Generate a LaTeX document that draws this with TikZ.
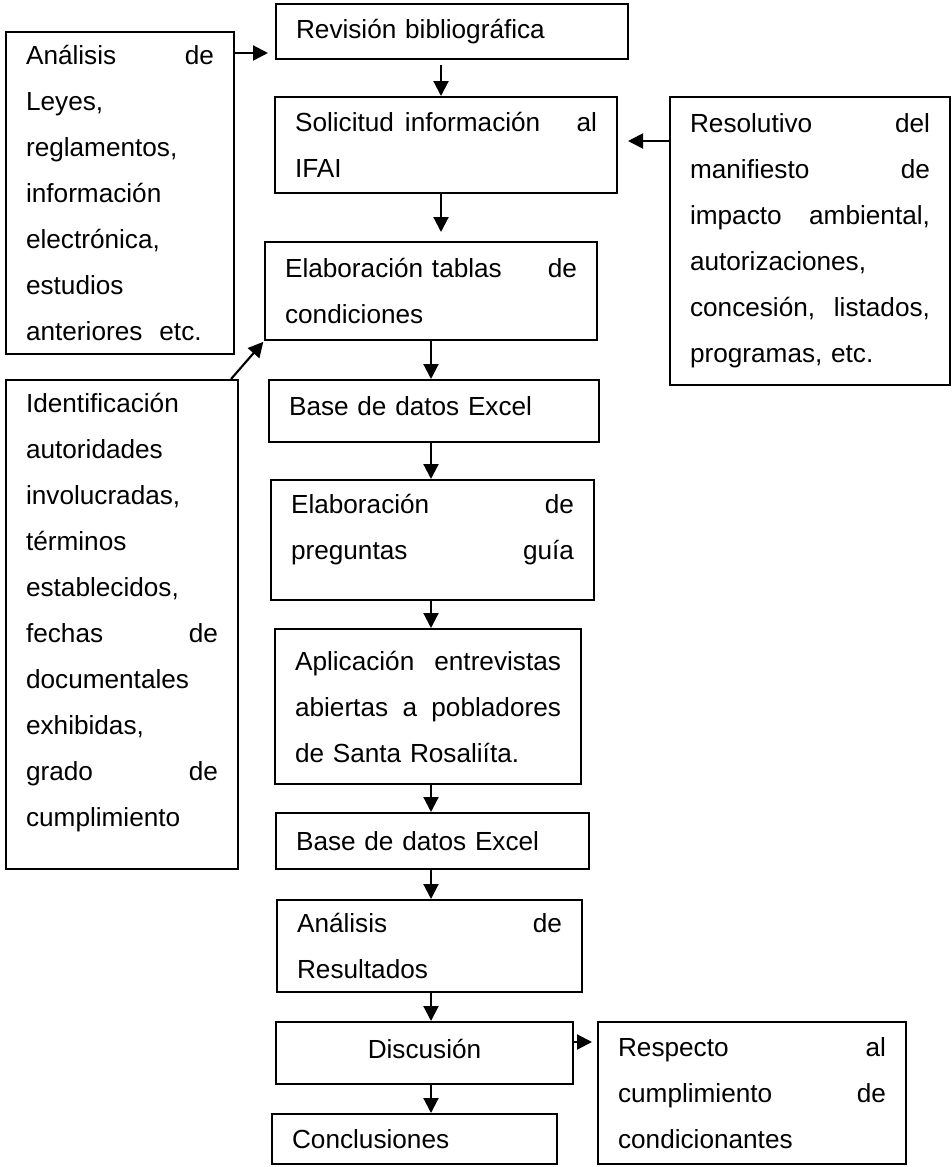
\documentclass[tikz,border=0pt]{standalone}
\usepackage{fontspec}
\setmainfont{Liberation Sans}
\usetikzlibrary{arrows.meta,calc}
\begin{document}
\begin{tikzpicture}[x=0.02cm, y=-0.02cm,
  box/.style={draw, line width=1.2pt, anchor=north west, inner xsep=0.4cm, inner ysep=0.05cm,
    align=left, font=\fontsize{14.9pt}{26.2pt}\selectfont},
  arr/.style={line width=1.2pt, -{Triangle[length=0.3cm,width=0.3cm]}}
]
\useasboundingbox (0,0) rectangle (951,1167);

% main column
\node[box, minimum width=7.04cm, minimum height=1.1cm, text width=6.24cm] (Rev) at (275,3) {Revisión bibliográfica};
\node[box, minimum width=6.84cm, minimum height=1.92cm, text width=6.04cm] (Sol) at (274,96) {Solicitud\hspace{0.22cm}información\hfill al\\IFAI};
\node[box, minimum width=6.64cm, minimum height=1.96cm, text width=5.84cm] (Elab) at (264,241) {Elaboración tablas\hfill de\\condiciones};
\node[box, minimum width=6.6cm, minimum height=1.24cm, text width=5.8cm] (BaseA) at (268,379) {Base de datos Excel\rule[-5.5pt]{0pt}{5.5pt}};
\node[box, minimum width=6.46cm, minimum height=2.4cm, text width=5.66cm] (Preg) at (270,479) {Elaboración\hfill de\\preguntas\hfill guía\rule[-14.5pt]{0pt}{14.5pt}};
\node[box, minimum width=6.12cm, minimum height=3.1cm, text width=5.32cm] (Aplic) at (274,628) {Aplicación\hfill entrevistas\\abiertas\hfill a\hfill pobladores\\de Santa Rosaliíta.};
\node[box, minimum width=6.26cm, minimum height=1.12cm, text width=5.46cm] (BaseB) at (275,812) {Base de datos Excel};
\node[box, minimum width=6.1cm, minimum height=1.84cm, text width=5.3cm] (Anal) at (276,899) {Análisis\hfill de\\Resultados};
\node[box, align=center, minimum width=5.94cm, minimum height=1.24cm, text width=5.14cm] (Disc) at (275,1021) {Discusión\rule[-4.5pt]{0pt}{4.5pt}};
\node[box, minimum width=5.7cm, minimum height=1.0cm, text width=4.9cm] (Concl) at (271,1113) {Conclusiones};
\node[box, minimum width=6.16cm, minimum height=2.84cm, text width=5.36cm] (Resp) at (597,1021) {Respecto\hfill al\\cumplimiento\hfill de\\condicionantes};

% side boxes
\node[box, minimum width=4.56cm, minimum height=6.44cm, text width=3.76cm] (A) at (5,31) {Análisis\hfill de\\Leyes,\\reglamentos,\\información\\electrónica,\\estudios\\anteriores\hspace{0.34cm}etc.};
\node[box, minimum width=4.64cm, minimum height=9.78cm, text width=3.84cm] (B) at (5,379) {Identificación\\autoridades\\involucradas,\\términos\\establecidos,\\fechas\hfill de\\documentales\\exhibidas,\\grado\hfill de\\cumplimiento\rule[-16.7pt]{0pt}{16.7pt}};
\node[box, minimum width=5.6cm, minimum height=5.76cm, text width=4.8cm] (C) at (669,96) {Resolutivo\hfill del\\manifiesto\hfill de\\impacto\hfill ambiental,\\autorizaciones,\\concesión,\hfill listados,\\programas, etc.};

\coordinate (cA) at (441,0);
\coordinate (cB) at (431,0);

% connectors
\draw[arr, shorten >=0.14cm] ($(A.north east)+(0,22)$) coordinate (aa) -- (aa -| Rev.west);
\draw[arr, shorten <=0.1cm] (Rev.south -| cA) -- (Sol.north -| cA);
\draw[arr, shorten >=0.18cm] (Sol.south -| cA) -- (Elab.north -| cA);
\draw[arr, shorten >=0.2cm] ($(C.north west)+(0,45)$) coordinate (cc) -- (cc -| Sol.east);
\draw[arr, shorten >=0.02cm] ($(B.north east)+(-8,0)$) -- (Elab.south west);
\draw[arr] (Elab.south -| cB) -- (BaseA.north -| cB);
\draw[arr] (BaseA.south -| cB) -- (Preg.north -| cB);
\draw[arr] (Preg.south -| cB) -- (Aplic.north -| cB);
\draw[arr] (Aplic.south -| cB) -- (BaseB.north -| cB);
\draw[arr] (BaseB.south -| cB) -- (Anal.north -| cB);
\draw[arr] (Anal.south -| cB) -- (Disc.north -| cB);
\draw[arr] (Disc.south -| cB) -- (Concl.north -| cB);
\draw[arr, shorten >=0.1cm] ($(Disc.north east)+(0,21)$) coordinate (dd) -- (dd -| Resp.west);
\end{tikzpicture}
\end{document}
